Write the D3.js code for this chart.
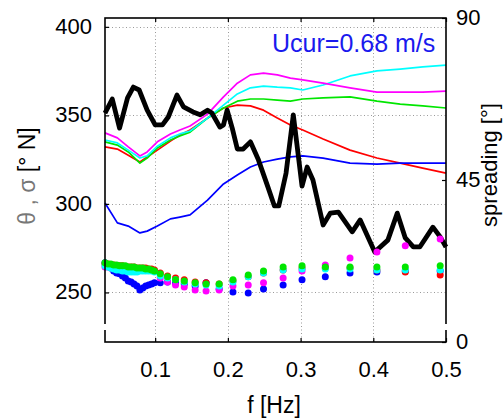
<!DOCTYPE html>
<html><head><meta charset="utf-8">
<script src="https://cdn.jsdelivr.net/npm/d3@7"></script>
<style>body{margin:0;background:#fff}svg{display:block}text{font-family:"Liberation Sans",Arial,sans-serif}</style>
</head><body>
<svg id="c" width="503" height="420"></svg>
<script>
// ---- data ----
const xTicks = [0.1, 0.2, 0.3, 0.4, 0.5];
const leftTicks = [250, 300, 350, 400];
const rightTicks = [0, 45, 90];
const annotation = "Ucur=0.68 m/s";

// spreading lines (right axis)
const lineF = [0.031,0.048,0.063,0.079,0.089,0.103,0.121,0.134,0.148,0.172,0.194,0.213,0.231,0.249,0.268,0.286,0.303,0.331,0.368,0.405,0.437,0.468,0.5];
const magentaLine = [58.1,56.7,54.2,51.7,52.8,55.6,57.8,58.9,60.0,63.3,68.1,71.9,74.2,74.7,74.2,73.3,72.8,71.9,70.6,69.4,69.4,69.4,69.7];
const cyanLine    = [56.1,55.3,53.3,51.1,51.7,54.4,56.7,57.8,58.6,62.2,65.8,68.9,70.6,71.1,70.8,70.6,70.0,71.4,73.9,75.3,75.8,76.4,76.9];
const greenLine   = [55.6,54.7,52.8,49.7,51.1,53.9,56.1,57.2,58.3,62.2,65.0,66.9,67.5,67.5,67.2,66.9,67.5,67.8,68.1,66.9,66.1,65.6,65.0];
const redLine     = [54.2,53.6,51.9,50.0,51.4,53.3,55.8,57.5,58.9,62.2,65.0,65.8,65.6,64.4,62.2,60.3,58.9,56.4,53.3,51.1,49.7,48.3,46.9];
const blueLine    = [38.6,33.1,32.2,30.3,30.8,32.2,34.2,34.7,35.3,39.4,43.9,46.4,48.6,50.0,50.8,51.4,51.7,51.1,49.7,49.4,49.7,49.7,49.7];

const blackF = [0.031,0.041,0.051,0.062,0.070,0.078,0.089,0.100,0.110,0.118,0.130,0.139,0.152,0.162,0.172,0.178,0.189,0.194,0.199,0.206,0.213,0.221,0.231,0.242,0.255,0.264,0.270,0.280,0.290,0.302,0.309,0.317,0.331,0.341,0.352,0.371,0.382,0.402,0.420,0.433,0.444,0.455,0.464,0.482,0.492,0.5];
const blackLine = [63.6,67.5,59.4,67.8,70.8,70.0,64.4,60.3,60.3,62.5,68.6,65.3,63.9,63.1,64.4,63.6,59.7,60.3,64.4,59.4,53.6,53.6,55.6,50.6,43.1,37.8,37.8,46.9,63.1,43.3,48.6,45.0,32.5,35.8,36.1,30.6,33.9,25.0,28.3,35.8,28.9,26.4,26.4,31.9,29.2,26.4];

// mean direction dots (left axis)
const dotF = [0.031,0.035,0.039,0.043,0.047,0.051,0.055,0.059,0.063,0.067,0.071,0.075,0.079,0.083,0.087,0.091,0.095,0.099,0.107,0.117,0.128,0.140,0.155,0.170,0.188,0.207,0.228,0.249,0.276,0.302,0.334,0.368,0.405,0.444,0.492];
const blueDots    = [266.7,265.0,263.8,262.1,261.0,260.5,259.3,258.2,256.5,255.9,254.8,253.7,251.4,252.5,253.7,254.2,254.8,255.4,255.4,255.9,255.4,254.8,253.7,255.4,252.0,250.3,249.7,252.0,254.2,257.1,258.8,261.0,261.6,262.1,262.1];
const magentaDots = [264.4,264.4,263.8,263.8,263.8,263.8,263.8,263.8,263.8,263.3,263.3,263.3,263.3,263.3,263.3,262.7,262.7,262.1,258.2,255.9,254.2,253.1,251.4,250.8,251.4,253.7,254.2,255.4,258.2,262.1,265.5,269.5,272.9,276.3,280.2];
const redDots     = [266.1,266.1,265.5,265.5,265.0,265.0,265.0,264.4,264.4,264.4,264.4,263.8,263.8,263.8,263.8,263.3,263.3,262.7,261.0,259.3,258.2,257.1,255.9,255.4,254.8,256.5,258.8,261.0,262.7,263.8,263.8,263.8,262.7,261.6,259.9];
const cyanDots    = [265.0,264.4,263.8,263.3,262.7,262.7,262.1,262.1,261.6,261.6,261.6,261.6,262.1,262.1,262.1,262.1,262.1,261.6,259.3,258.2,257.1,255.9,254.8,254.2,253.7,255.9,258.8,261.0,262.7,263.3,263.3,263.3,262.7,262.7,262.7];
const greenDots   = [266.7,266.1,266.1,265.5,265.5,265.0,265.0,265.0,264.4,264.4,264.4,263.8,263.8,263.8,263.3,263.3,262.7,262.1,260.5,258.8,257.1,256.5,255.4,254.8,254.8,257.1,259.9,262.1,264.4,265.0,264.4,264.4,264.4,264.4,265.0];

// ---- layout ----
const L = 105, R = 446, T = 18, B = 342;
const svg = d3.select("#c");
const x = d3.scaleLinear().domain([0.031, 0.5]).range([L, R]);
const yL = d3.scaleLinear().domain([222, 405]).range([B, T]);
const yR = d3.scaleLinear().domain([0, 90]).range([B, T]);

// grid
const grid = svg.append("g").attr("stroke", "#9a9a9a").attr("stroke-width", 1).attr("stroke-dasharray", "1,2.5");
grid.selectAll("line.v").data(xTicks.filter(t => t < 0.5)).join("line")
  .attr("x1", d => Math.round(x(d)) + 0.5).attr("x2", d => Math.round(x(d)) + 0.5).attr("y1", T).attr("y2", B);
grid.selectAll("line.h").data(leftTicks).join("line")
  .attr("y1", d => Math.round(yL(d)) + 0.5).attr("y2", d => Math.round(yL(d)) + 0.5).attr("x1", L).attr("x2", R);

// lines
const lineR = d3.line().x(d => x(d[0])).y(d => yR(d[1]));
const series = [
  [redLine, "#ff0000"], [blueLine, "#0000ff"], [greenLine, "#00e600"], [cyanLine, "#00ffff"], [magentaLine, "#ff00ff"]
];
series.forEach(([vals, col]) => {
  svg.append("path").datum(lineF.map((f, i) => [f, vals[i]]))
    .attr("d", lineR).attr("fill", "none").attr("stroke", col).attr("stroke-width", 1.7).attr("stroke-linejoin", "round");
});
svg.append("path").datum(blackF.map((f, i) => [f, blackLine[i]]))
  .attr("d", lineR).attr("fill", "none").attr("stroke", "#000").attr("stroke-width", 4.8).attr("stroke-linejoin", "round");

// dots
const dotSeries = [[blueDots, "#0000ff"], [magentaDots, "#ff00ff"], [redDots, "#ff0000"], [cyanDots, "#00ffff"], [greenDots, "#00e600"]];
dotSeries.forEach(([vals, col]) => {
  svg.append("g").selectAll("circle").data(dotF.map((f, i) => [f, vals[i]])).join("circle")
    .attr("cx", d => x(d[0])).attr("cy", d => yL(d[1])).attr("r", 3.5).attr("fill", col);
});

// axes (inward ticks)
function styleAxis(g) { g.select(".domain").remove(); g.selectAll("line").attr("stroke", "#000").attr("stroke-width", 1.2); g.selectAll("text").attr("font-size", 22).attr("fill", "#000").attr("font-family", "Liberation Sans, Arial, sans-serif"); }
const fmt = d3.format(".1f");
svg.append("g").attr("transform", `translate(0,${B})`)
  .call(d3.axisBottom(x).tickValues(xTicks).tickFormat(fmt).tickSizeInner(-4).tickSizeOuter(0))
  .call(styleAxis).call(g => g.selectAll("text").attr("y", 35).attr("dy", 0));
svg.append("g").attr("transform", `translate(0,${T})`)
  .call(d3.axisTop(x).tickValues(xTicks).tickFormat("").tickSizeInner(-4).tickSizeOuter(0)).call(styleAxis);
svg.append("g").attr("transform", `translate(${L},0)`)
  .call(d3.axisLeft(yL).tickValues(leftTicks).tickSizeInner(-4).tickSizeOuter(0))
  .call(styleAxis).call(g => g.selectAll("text").attr("x", -13).attr("dy", "0.28em"));
svg.append("g").attr("transform", `translate(${R},0)`)
  .call(d3.axisRight(yR).tickValues(rightTicks).tickSizeInner(-4).tickSizeOuter(0))
  .call(styleAxis).call(g => g.selectAll("text").attr("x", 10).attr("dy", "0.3em"));

// frame
svg.append("rect").attr("x", L).attr("y", T).attr("width", R - L).attr("height", B - T)
  .attr("fill", "none").attr("stroke", "#000").attr("stroke-width", 1.6);
// small breaks in the side axes
svg.append("rect").attr("x", L - 2).attr("y", 324).attr("width", 4).attr("height", 6).attr("fill", "#fff");
svg.append("rect").attr("x", R - 2).attr("y", 324).attr("width", 4).attr("height", 6).attr("fill", "#fff");

// labels
svg.append("text").attr("x", 274).attr("y", 413).attr("text-anchor", "middle").attr("font-size", 23).text("f [Hz]");
const yl = svg.append("text").attr("transform", "translate(35,176) rotate(-90)").attr("text-anchor", "middle").attr("font-size", 23);
yl.append("tspan").attr("fill", "#777").text("θ , σ ");
yl.append("tspan").attr("fill", "#000").text("[° N]");
svg.append("text").attr("transform", "translate(497,165) rotate(-90)").attr("text-anchor", "middle").attr("font-size", 22).text("spreading [°]");
svg.append("text").attr("x", 272).attr("y", 52).attr("font-size", 25).attr("fill", "#1a1aee").text(annotation);
</script>
</body></html>
